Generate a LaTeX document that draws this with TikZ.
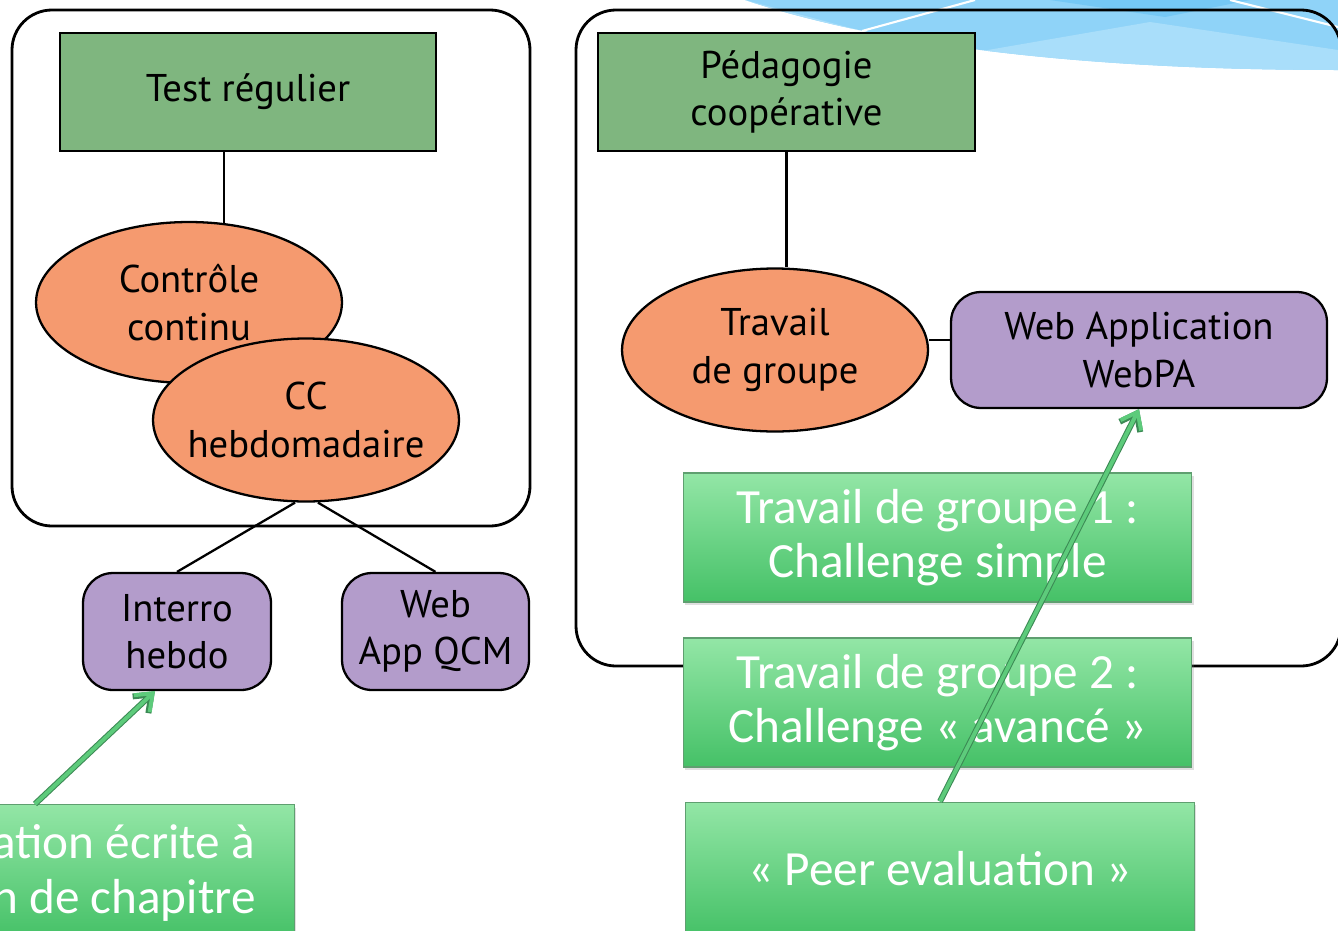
\documentclass[tikz,border=0pt]{standalone}
\usepackage{fontspec}
\setmainfont{PT Sans}
\newfontfamily\notefont{Carlito}
\usepackage{tikz}
\usetikzlibrary{calc, arrows.meta, shapes.geometric, shadows}
\usepackage{xcolor}
\definecolor{boxgreen}{HTML}{7FB67F}
\definecolor{ovalorange}{HTML}{F59A6F}
\definecolor{pilllilac}{HTML}{B39CCB}
\definecolor{notetop}{HTML}{93E6A6}
\definecolor{notebot}{HTML}{45C167}
\definecolor{noteedge}{HTML}{5F9F70}
\definecolor{ptrfill}{HTML}{5DCB7B}
\definecolor{ptredge}{HTML}{3C8A55}
\definecolor{skylight}{HTML}{A9DEFA}
\definecolor{skymid}{HTML}{8FD3F8}
\definecolor{skydark}{HTML}{75C8F5}

\begin{document}
\begin{tikzpicture}[x=0.02cm, y=-0.02cm, >=latex]
			\tikzstyle{box} = [draw=black, line width=1.3pt, fill=boxgreen, rectangle, minimum width=7.52cm, minimum height=2.36cm, align=center, font=\fontsize{22}{27}\selectfont]
			\tikzstyle{oval} = [draw=black, line width=1.3pt, fill=ovalorange, ellipse, inner xsep=-0.35cm, inner ysep=0pt, minimum width=6.12cm, minimum height=3.26cm, align=center, font=\fontsize{22}{27}\selectfont]
			\tikzstyle{pill} = [draw=black, line width=1.3pt, fill=pilllilac, rectangle, rounded corners=0.6cm, inner sep=0pt, align=center, font=\fontsize{22}{27}\selectfont]
			\tikzstyle{note} = [draw=noteedge, line width=0.6pt, top color=notetop, bottom color=notebot, rectangle, minimum width=10.18cm, minimum height=2.58cm, text=white, align=center, font=\notefont\fontsize{28}{31}\selectfont, drop shadow={opacity=0.25, shadow xshift=0.04cm, shadow yshift=-0.06cm}]
			\tikzstyle{link} = [line width=1.3pt]
			\tikzstyle{frame} = [line width=1.6pt, rounded corners=0.8cm]
			\tikzstyle{pointer} = [draw=ptrfill, line width=2.2pt, -{Straight Barb[length=0.3cm, width=0.46cm]}, preaction={draw=ptredge, line width=3.4pt}]
			
			\useasboundingbox (0,0) rectangle (1338,930);
			\clip (0,0) rectangle (1338,930);
			
			% top right corner of the slide
			\fill[skymid] (745,0) .. controls (880,45) and (1080,70) .. (1338,70) -- (1338,0) -- cycle;
			\begin{scope}
				\clip (745,0) .. controls (880,45) and (1080,70) .. (1338,70) -- (1338,0) -- cycle;
				\fill[skylight] (930,60) -- (1150,22) -- (1338,50) -- (1338,90) -- (930,90) -- cycle;
				\fill[skylight] (745,0) -- (862,31) -- (700,31) -- cycle;
			\end{scope}
			\fill[skydark] (1050,0) -- (1165,17) -- (1250,0) -- cycle;
			\draw[white, line width=1.2pt] (862,31) -- (975,0);
			\draw[white, line width=1.2pt] (1230,0) -- (1338,27);
			
			\draw[frame] (12,10) rectangle (530,526);
			\draw[frame] (576,10) rectangle (1341,666);
			
			\node[box]		at (248, 92)		(test)		{Test régulier};
			\node[box, minimum width=7.54cm]	at (786.5, 92)	(pedago)	{Pédagogie\\coopérative};
			
			\node[oval, minimum height=3.22cm]	at (189, 302.5)	(controle)	{Contrôle\\continu};
			\node[oval]		at (306, 420)		(cc)		{CC\\hebdomadaire};
			\node[oval]		at (775, 350)		(travail)	{Travail\\de groupe};
			
			\node[pill, minimum width=3.76cm, minimum height=2.34cm]	at (177, 631.5)		(interro)	{Interro\\hebdo};
			\node[pill, minimum width=3.74cm, minimum height=2.34cm]	at (435.5, 631.5)	(qcm)		{Web\\App QCM};
			\node[pill, minimum width=7.52cm, minimum height=2.32cm]	at (1139, 350)		(webpa)		{Web Application\\WebPA};
			
			\node[note]		at (937.5, 537.5)	(groupe1)	{Travail de groupe 1 :\\Challenge simple};
			\node[note]		at (937.5, 702.5)	(groupe2)	{Travail de groupe 2 :\\Challenge « avancé »};
			\node[note, minimum height=2.68cm]	at (940, 869)	(peer)		{« Peer evaluation »};
			\node[note, minimum height=2.68cm]	at (40, 871.5)	(evalbox)	{};
			\node[text=white, align=left, anchor=west, inner sep=0pt, font=\notefont\fontsize{28}{31}\selectfont]	at (-8, 873)	(evaltext)	{ation écrite à\\n de chapitre};
			
			\draw [link]	(test.south -| 224,0) -- ($(controle.north)+(35,2)$);
			\draw [link]	(pedago.south) -- (pedago.south |- travail.north);
			\draw [link]	([yshift=0.2cm]travail.east) -- ([yshift=0.2cm]webpa.west);
			\draw [link]	([xshift=-0.22cm]cc.south) -- (interro.north);
			\draw [link]	([xshift=0.24cm]cc.south) -- (qcm.north);
			
			\draw [pointer]	($(evalbox.north)+(-5,0)$) -- ($(interro.south)+(-22,0)$);
			\draw [pointer]	(peer.north) -- (webpa.south);
		\end{tikzpicture}
\end{document}
